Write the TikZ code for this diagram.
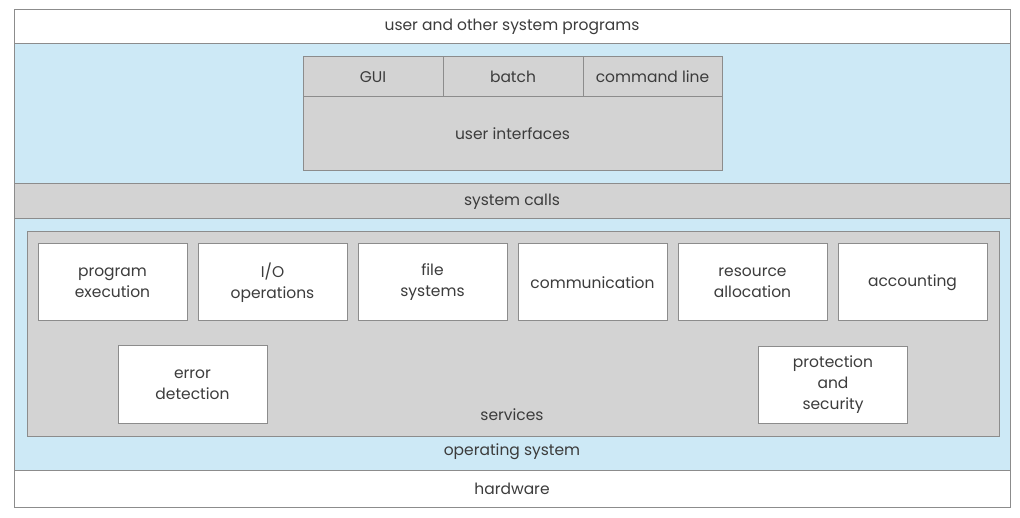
\documentclass[tikz,border=0pt]{standalone}
\usepackage{fontspec}
\setmainfont{Poppins}
\usetikzlibrary{positioning}
\definecolor{osblue}{HTML}{CDE9F6}
\definecolor{panelgray}{HTML}{D3D3D3}
\definecolor{edgegray}{HTML}{8C8C8C}
\definecolor{textgray}{HTML}{3C3C3C}
\tikzset{
  band/.style={rectangle,draw=edgegray,line width=1pt,minimum width=996pt,inner sep=0pt,text=textgray},
  panel/.style={rectangle,draw=edgegray,fill=panelgray,line width=1pt,inner sep=0pt,text=textgray},
  svc/.style={rectangle,draw=edgegray,fill=white,line width=1pt,minimum width=149pt,minimum height=77pt,align=center,inner sep=0pt,text=textgray},
  tagtext/.style={inner sep=0pt,text=textgray}
}

\begin{document}
\begin{tikzpicture}[x=1pt,y=-1pt,every node/.style={font=\fontsize{15.5}{21}\selectfont}]
\useasboundingbox (0,0) rectangle (1020,518);
% layers
\node[band, fill=white, minimum height=34pt] (progs) at (512,27) {user and other system programs};
\node[band, fill=osblue, minimum height=426pt] (os) at (512,257) {};
\node[tagtext] (oslabel) at (512,452) {operating system};
\node[band, fill=panelgray, minimum height=35pt] (syscalls) at (512,201.5) {system calls};
\node[band, fill=white, minimum height=37pt] (hw) at (512,488.5) {hardware};
% user interfaces
\node[panel, minimum width=140pt, minimum height=40pt] (gui) at (373,77) {GUI};
\node[panel, minimum width=140pt, minimum height=40pt] (batch) at (513,77) {batch};
\node[panel, minimum width=139pt, minimum height=40pt] (cmdline) at (652.5,77) {command line};
\node[panel, minimum width=419pt, minimum height=74pt] (ui) at (512.5,134) {user interfaces};
% services
\node[panel, minimum width=972pt, minimum height=204pt] (services) at (513,334) {};
\node[tagtext] (svclabel) at (512,415) {services};
\node[svc] (exec) at (112.5,282.5) {program\\execution};
\node[svc, right=10pt of exec] (io) {I/O\\operations};
\node[svc, right=10pt of io] (files) {file\\systems};
\node[svc, right=10pt of files] (comm) {communication};
\node[svc, right=10pt of comm] (alloc) {resource\\allocation};
\node[svc, right=10pt of alloc] (acct) {accounting};
\node[svc] (errdet) at (192.5,384.5) {error\\detection};
\node[svc] (protect) at (833,385) {protection\\and\\security};
\end{tikzpicture}
\end{document}
